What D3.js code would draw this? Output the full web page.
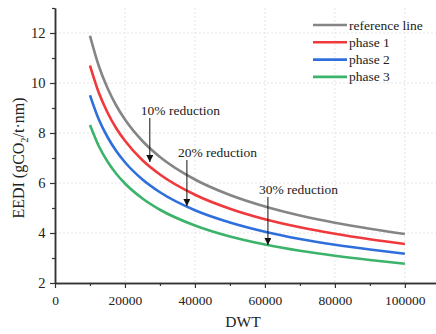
<!DOCTYPE html>
<html>
<head>
<meta charset="utf-8">
<script src="https://cdn.jsdelivr.net/npm/d3@7"></script>
<style>
  body { margin: 0; background: #fff; }
  text { font-family: "Liberation Serif", "Times New Roman", serif; fill: #222; }
</style>
</head>
<body>
<svg id="chart" width="436" height="334"></svg>
<script>
// DWT sample points
const dwt = [10000, 12500, 15000, 17500, 20000, 25000, 30000, 40000, 50000, 60000, 70000, 80000, 90000, 100000];
const referenceLine = [11.89, 10.69, 9.80, 9.10, 8.54, 7.68, 7.04, 6.14, 5.52, 5.06, 4.70, 4.41, 4.17, 3.96];
const phase1 = [10.70, 9.62, 8.82, 8.19, 7.69, 6.91, 6.34, 5.53, 4.97, 4.55, 4.23, 3.97, 3.75, 3.56];
const phase2 = [9.51, 8.55, 7.84, 7.28, 6.83, 6.14, 5.63, 4.91, 4.42, 4.05, 3.76, 3.53, 3.34, 3.17];
const phase3 = [8.32, 7.48, 6.86, 6.37, 5.98, 5.38, 4.93, 4.30, 3.86, 3.54, 3.29, 3.09, 2.92, 2.77];

const seriesNames = ['reference line', 'phase 1', 'phase 2', 'phase 3'];
const seriesColors = ['#858585', '#f0393c', '#2f6fdc', '#3bb36b'];

const xTicks = [0, 20000, 40000, 60000, 80000, 100000];
const yTicks = [2, 4, 6, 8, 10, 12];

// annotation arrows: label, dwt, from value, to value
const notes = [
  { label: '10% reduction', dwt: 27100, from: 8.6, to: 6.84 },
  { label: '20% reduction', dwt: 37700, from: 6.92, to: 5.08 },
  { label: '30% reduction', dwt: 60860, from: 5.44, to: 3.52 }
];

const svg = d3.select('#chart');
const x = d3.scaleLinear().domain([0, 108900]).range([55, 436]);
const y = d3.scaleLinear().domain([2, 13]).range([283, 8]);

// grid
const grid = svg.append('g').attr('stroke', '#dedede').attr('stroke-dasharray', '2,2').attr('stroke-width', 0.8);
grid.selectAll('line.gx').data(xTicks.slice(1)).enter().append('line')
  .attr('x1', d => x(d)).attr('x2', d => x(d)).attr('y1', y(13)).attr('y2', y(2));
grid.selectAll('line.gy').data(yTicks.slice(1)).enter().append('line')
  .attr('x1', x(0)).attr('x2', 436).attr('y1', d => y(d)).attr('y2', d => y(d));

// axes
const xAxis = svg.append('g').attr('transform', `translate(0,${y(2)})`)
  .call(d3.axisBottom(x).tickValues(xTicks).tickFormat(d3.format('d')).tickSize(5).tickSizeOuter(0));
const xMinor = svg.append('g').attr('transform', `translate(0,${y(2)})`)
  .call(d3.axisBottom(x).tickValues(d3.range(10000, 108000, 20000)).tickFormat('').tickSize(3).tickSizeOuter(0));
const yAxis = svg.append('g').attr('transform', `translate(${x(0)},0)`)
  .call(d3.axisLeft(y).tickValues(yTicks).tickSize(5).tickSizeOuter(0));
const yMinor = svg.append('g').attr('transform', `translate(${x(0)},0)`)
  .call(d3.axisLeft(y).tickValues([3, 5, 7, 9, 11, 13]).tickFormat('').tickSize(3).tickSizeOuter(0));

[xAxis, xMinor, yAxis, yMinor].forEach(a => {
  a.select('.domain').attr('stroke', '#333').attr('stroke-width', 1.5);
  a.selectAll('.tick line').attr('stroke', '#333').attr('stroke-width', 1.2);
});
xAxis.selectAll('.tick text').attr('font-size', 13.5).attr('dy', '1.0em')
  .style('font-family', '"Liberation Serif", serif').attr('fill', '#222');
yAxis.selectAll('.tick text').attr('font-size', 14.5).attr('dx', '-0.1em')
  .style('font-family', '"Liberation Serif", serif').attr('fill', '#222');

// axis titles
svg.append('text').attr('x', 243).attr('y', 327).attr('text-anchor', 'middle')
  .attr('font-size', 15.5).text('DWT');
const yt = svg.append('text').attr('transform', `translate(24,158) rotate(-90)`)
  .attr('text-anchor', 'middle').attr('font-size', 16);
yt.append('tspan').text('EEDI (gCO');
yt.append('tspan').attr('font-size', 10.5).attr('dy', 4).text('2');
yt.append('tspan').attr('dy', -4).text('/t·nm)');

// curves
const allSeries = [referenceLine, phase1, phase2, phase3];
const line = d3.line().x((d, i) => x(dwt[i])).y(d => y(d)).curve(d3.curveMonotoneX);
svg.append('g').selectAll('path').data(allSeries).enter().append('path')
  .attr('d', d => line(d))
  .attr('fill', 'none')
  .attr('stroke', (d, i) => seriesColors[i])
  .attr('stroke-width', 2.6);

// annotations
svg.append('defs').append('marker')
  .attr('id', 'arrow').attr('viewBox', '0 0 10 10').attr('refX', 10).attr('refY', 5)
  .attr('markerWidth', 7).attr('markerHeight', 7).attr('orient', 'auto')
  .append('path').attr('d', 'M0,0 L10,5 L0,10 z').attr('fill', '#111');
const ann = svg.append('g');
notes.forEach(n => {
  ann.append('line')
    .attr('x1', x(n.dwt)).attr('x2', x(n.dwt))
    .attr('y1', y(n.from)).attr('y2', y(n.to))
    .attr('stroke', '#111').attr('stroke-width', 1)
    .attr('marker-end', 'url(#arrow)');
  ann.append('text')
    .attr('x', x(n.dwt) - 9).attr('y', y(n.from) - 3)
    .attr('font-size', 13.5).text(n.label);
});

// legend
const legend = svg.append('g').attr('transform', 'translate(313,25)');
seriesNames.forEach((name, i) => {
  const row = legend.append('g').attr('transform', `translate(0,${i * 17.3})`);
  row.append('line').attr('x1', 0).attr('x2', 34)
    .attr('stroke', seriesColors[i]).attr('stroke-width', 2.6);
  row.append('text').attr('x', 36).attr('y', 4.5).attr('font-size', 13.5).text(name);
});
</script>
</body>
</html>
